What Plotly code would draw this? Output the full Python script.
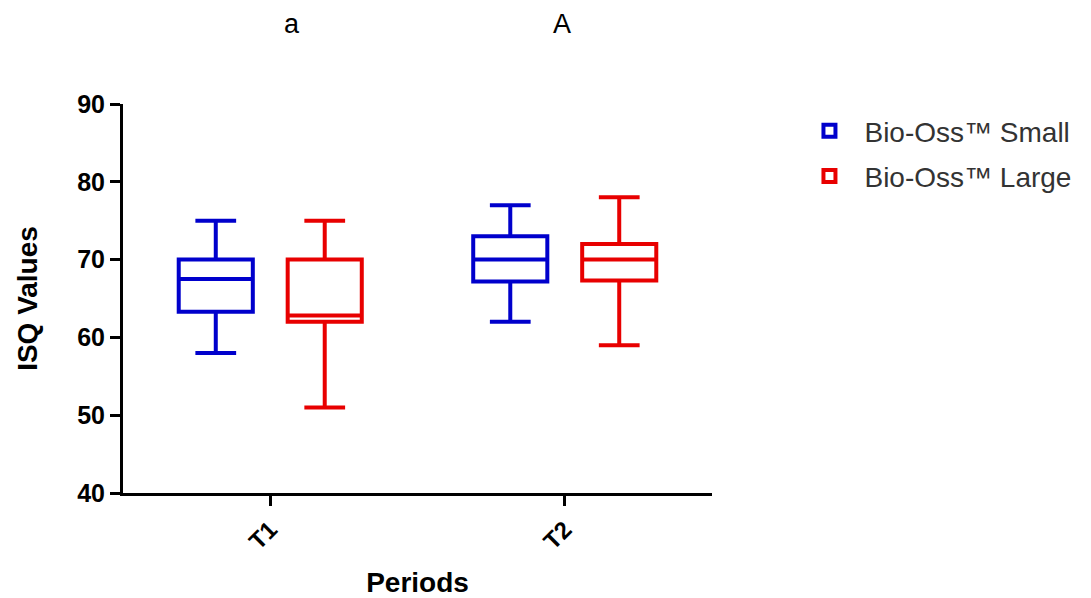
import plotly.graph_objects as go

periods = ["T1", "T2"]

small_name = "Bio-Oss™ Small"
small_q1 = [63.3, 67.2]
small_median = [67.5, 70.0]
small_q3 = [70.0, 73.0]
small_low = [58.0, 62.0]
small_high = [75.0, 77.0]

large_name = "Bio-Oss™ Large"
large_q1 = [62.0, 67.3]
large_median = [62.8, 70.0]
large_q3 = [70.0, 72.0]
large_low = [51.0, 59.0]
large_high = [75.0, 78.0]

group_letters = ["a", "A"]
y_ticks = [40, 50, 60, 70, 80, 90]

BLUE = "#0000cc"
RED = "#e80000"

fig = go.Figure()
fig.add_trace(go.Box(
    x=periods, q1=small_q1, median=small_median, q3=small_q3,
    lowerfence=small_low, upperfence=small_high,
    name=small_name, legendgroup="s",
    line=dict(color=BLUE, width=4), fillcolor="white",
    whiskerwidth=0.55, boxpoints=False,
))
fig.add_trace(go.Box(
    x=periods, q1=large_q1, median=large_median, q3=large_q3,
    lowerfence=large_low, upperfence=large_high,
    name=large_name, legendgroup="l",
    line=dict(color=RED, width=4), fillcolor="white",
    whiskerwidth=0.55, boxpoints=False,
))

annots = []
for xp, letter in zip([0.287, 0.745], group_letters):
    annots.append(dict(x=xp, y=1.205, xref="paper", yref="paper", text=letter,
                       xanchor="center", yanchor="middle",
                       showarrow=False, font=dict(family="Liberation Sans", size=27, color="black")))

fig.update_layout(
    width=1091, height=598,
    margin=dict(l=123, r=379, t=104, b=105),
    paper_bgcolor="white", plot_bgcolor="white",
    boxmode="group", boxgap=0.26, boxgroupgap=0.32,
    showlegend=True,
    legend=dict(x=1.14, y=0.995, xanchor="left", yanchor="top",
                itemwidth=60,
                font=dict(family="Liberation Sans", size=28, color="#333333"),
                tracegroupgap=6, bgcolor="rgba(0,0,0,0)"),
    annotations=annots,
    xaxis=dict(
        type="category", range=[-0.5, 1.5], automargin=False,
        showline=True, linecolor="black", linewidth=3,
        ticks="outside", ticklen=10, tickwidth=3, tickcolor="black",
        tickangle=-45, showgrid=False, zeroline=False,
        tickfont=dict(family="Liberation Sans", size=24, color="black", weight="bold"),
        title=dict(text="Periods", standoff=20,
                   font=dict(family="Liberation Sans", size=28, color="black", weight="bold")),
    ),
    yaxis=dict(
        range=[40, 90], tickvals=y_ticks, automargin=False,
        showline=True, linecolor="black", linewidth=3,
        ticks="outside", ticklen=10, tickwidth=3, tickcolor="black",
        showgrid=False, zeroline=False,
        tickfont=dict(family="Liberation Sans", size=25, color="black", weight="bold"),
        title=dict(text="ISQ Values", standoff=32,
                   font=dict(family="Liberation Sans", size=28, color="black", weight="bold")),
    ),
)

fig.write_html("out.html")
